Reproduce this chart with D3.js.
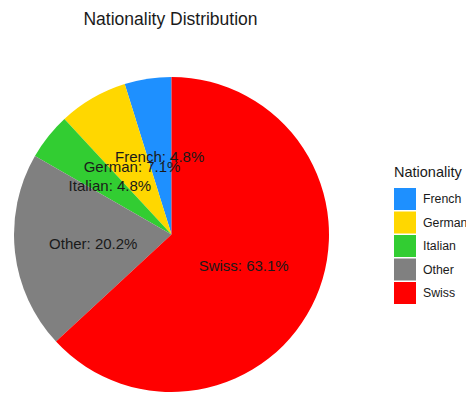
<!DOCTYPE html>
<html>
<head>
<meta charset="utf-8">
<script src="https://cdn.jsdelivr.net/npm/d3@7"></script>
<style>
  html, body { margin: 0; padding: 0; background: #fff; }
  svg { display: block; font-family: "Liberation Sans", Arial, Helvetica, sans-serif; }
</style>
</head>
<body>
<svg id="chart" width="466" height="394"></svg>
<script>
// Nationality shares (percent)
const categories = ["French", "German", "Italian", "Other", "Swiss"];
const shares = [4.8, 7.1, 4.8, 20.2, 63.1];
const colors = ["#1E90FF", "#FFD700", "#32CD32", "#808080", "#FF0000"];

const svg = d3.select("#chart");
const cx = 171.5, cy = 234.5, radius = 157.5;

const color = d3.scaleOrdinal().domain(categories).range(colors);

const data = categories.map((c, i) => ({ name: c, value: shares[i] }));

// Slices run counter-clockwise from 12 o'clock in category order,
// so the last category (Swiss) fills clockwise from the top.
const pie = d3.pie().value(d => d.value).sort(null)
  .startAngle(0).endAngle(-2 * Math.PI);
const arcs = pie(data);

const arc = d3.arc().innerRadius(0).outerRadius(radius);
const labelArc = d3.arc().innerRadius(radius / 2).outerRadius(radius / 2);

const g = svg.append("g").attr("transform", `translate(${cx},${cy})`);

g.selectAll("path.slice")
  .data(arcs)
  .join("path")
  .attr("class", "slice")
  .attr("d", arc)
  .attr("fill", d => color(d.data.name));

g.selectAll("text.lbl")
  .data(arcs)
  .join("text")
  .attr("class", "lbl")
  .attr("transform", d => `translate(${labelArc.centroid(d)})`)
  .attr("text-anchor", "middle")
  .attr("dy", "0.35em")
  .attr("font-size", 15)
  .attr("fill", "#1a1a1a")
  .text(d => `${d.data.name}: ${d3.format(".1f")(d.data.value)}%`);

// Title
svg.append("text")
  .attr("x", 170.5)
  .attr("y", 25)
  .attr("text-anchor", "middle")
  .attr("font-size", 17.5)
  .attr("fill", "#1a1a1a")
  .text("Nationality Distribution");

// Legend
const legend = svg.append("g").attr("transform", "translate(394,164)");
legend.append("text")
  .attr("x", 0)
  .attr("y", 13)
  .attr("font-size", 14.5)
  .attr("fill", "#1a1a1a")
  .text("Nationality");

const keySize = 22, keyStep = 23.5, keyTop = 24;
const items = legend.selectAll("g.item")
  .data(categories)
  .join("g")
  .attr("class", "item")
  .attr("transform", (d, i) => `translate(0,${keyTop + i * keyStep})`);

items.append("rect")
  .attr("width", keySize)
  .attr("height", keySize)
  .attr("fill", d => color(d));

items.append("text")
  .attr("x", 29)
  .attr("y", keySize / 2)
  .attr("dy", "0.35em")
  .attr("font-size", 12.3)
  .attr("fill", "#1a1a1a")
  .text(d => d);
</script>
</body>
</html>
